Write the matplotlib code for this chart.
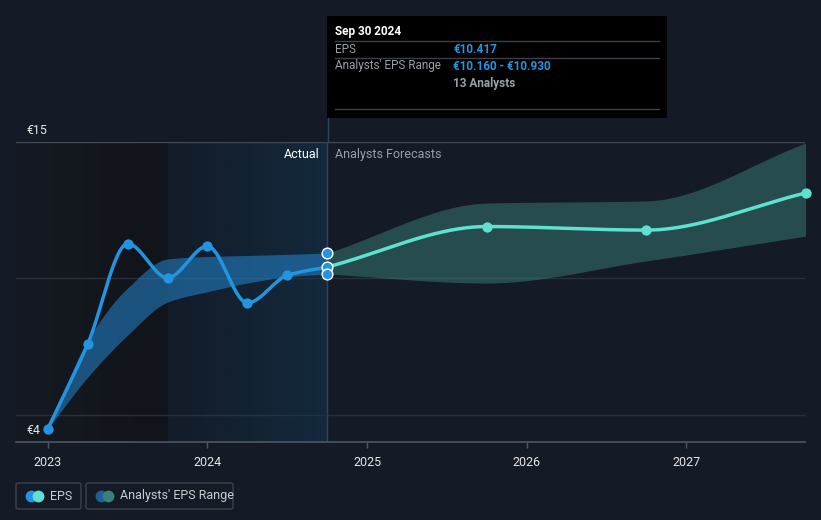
import numpy as np
import matplotlib
matplotlib.use("Agg")
import matplotlib.pyplot as plt
from matplotlib.patches import FancyBboxPatch, Rectangle, Circle

plt.rcParams['font.family'] = ['Roboto', 'DejaVu Sans']

# ---------------- data ----------------
eps_x = [2023.0, 2023.25, 2023.5, 2023.75, 2024.0, 2024.25, 2024.5, 2024.75]
eps_y = [4.49, 7.60, 11.27, 10.02, 11.18, 9.10, 10.11, 10.417]

past_range_hi = [4.49, 7.74, 9.65, 10.71, 10.80, 10.84, 10.88, 10.93]
past_range_lo = [4.49, 6.38, 7.92, 9.13, 9.51, 9.83, 10.06, 10.16]

fc_x = [2024.75, 2025.75, 2026.75, 2027.75]
fc_y = [10.417, 11.90, 11.77, 13.13]
fc_hi = [10.93, 12.76, 12.84, 14.96]
fc_lo = [10.16, 9.83, 10.64, 11.55]

years = [2023, 2024, 2025, 2026, 2027]
year_labels = ['2023', '2024', '2025', '2026', '2027']

tip_date = 'Sep 30 2024'
tip_eps = '€10.417'
tip_range = '€10.160 - €10.930'
tip_analysts = '13 Analysts'

# ---------------- style ----------------
BG = '#151b26'
BLUE = '#2394df'
TEAL = '#5de2cf'
GRID = '#2a303a'
TXT = '#e6e6e6'
GREY = '#9a9ea6'

XMIN, XMAX = 2022.80, 2027.745
YMIN, YMAX = 4.0, 15.0


def monotone(x, y, n=200):
    x = np.asarray(x, float); y = np.asarray(y, float)
    h = np.diff(x); d = np.diff(y) / h
    m = np.zeros_like(y)
    m[0] = d[0]; m[-1] = d[-1]
    for i in range(1, len(y) - 1):
        if d[i - 1] * d[i] <= 0:
            m[i] = 0
        else:
            w1 = 2 * h[i] + h[i - 1]; w2 = h[i] + 2 * h[i - 1]
            m[i] = (w1 + w2) / (w1 / d[i - 1] + w2 / d[i])
    xs, ys = [], []
    for i in range(len(x) - 1):
        t = np.linspace(0, 1, n, endpoint=(i == len(x) - 2))
        h00 = 2 * t**3 - 3 * t**2 + 1; h10 = t**3 - 2 * t**2 + t
        h01 = -2 * t**3 + 3 * t**2; h11 = t**3 - t**2
        xs.append(x[i] + t * h[i])
        ys.append(h00 * y[i] + h10 * h[i] * m[i] + h01 * y[i + 1] + h11 * h[i] * m[i + 1])
    return np.concatenate(xs), np.concatenate(ys)


fig = plt.figure(figsize=(8.21, 5.2), dpi=100, facecolor=BG)
ax = fig.add_axes([16 / 821, (520 - 442) / 520, 789 / 821, 300 / 520])
ax.set_facecolor(BG)
ax.set_xlim(XMIN, XMAX)
ax.set_ylim(YMIN, YMAX)

# background regions (gradients)
g = np.linspace(0, 1, 256).reshape(1, -1)
from matplotlib.colors import LinearSegmentedColormap
cm_dark = LinearSegmentedColormap.from_list('d', ['#151a22', '#111419'])
cm_blue = LinearSegmentedColormap.from_list('b', ['#131c28', '#13293d'])
ax.imshow(g, cmap=cm_dark, aspect='auto', extent=[XMIN, 2023.75, YMIN, YMAX], zorder=0)
ax.imshow(g, cmap=cm_blue, aspect='auto', extent=[2023.75, 2024.75, YMIN, YMAX], zorder=0)
ax.set_xlim(XMIN, XMAX)
ax.set_ylim(YMIN, YMAX)

# grid lines
for v in [5, 10]:
    ax.axhline(v, color=GRID, lw=1, zorder=1)
ax.axhline(15, color='#454b55', lw=1, zorder=1)
ax.axvline(2024.75, color='#2b4560', lw=1, zorder=1)

# past range band
bx, bhi = monotone(eps_x, past_range_hi)
_, blo = monotone(eps_x, past_range_lo)
ax.fill_between(bx, blo, bhi, color='#2386cf', alpha=0.55, lw=0, zorder=2)

# forecast band
fx, fhi = monotone(fc_x, fc_hi)
_, flo = monotone(fc_x, fc_lo)
ax.fill_between(fx, flo, fhi, color='#3f8a84', alpha=0.45, lw=0, zorder=2)

# EPS lines
ex, ey = monotone(eps_x, eps_y)
ax.plot(ex, ey, color=BLUE, lw=2.5, zorder=4, solid_capstyle='round')
ax.scatter(eps_x[:-1], eps_y[:-1], s=55, color=BLUE, zorder=5, lw=0)

fcx, fcy = monotone(fc_x, fc_y)
ax.plot(fcx, fcy, color=TEAL, lw=2.5, zorder=4, solid_capstyle='round')
ax.scatter(fc_x[1:], fc_y[1:], s=55, color=TEAL, zorder=5, lw=0, clip_on=False)

# endpoint markers at current date
ax.scatter([2024.75] * 3, [fc_hi[0], fc_y[0], fc_lo[0]], s=60, color=BLUE,
           edgecolor='white', lw=1.0, zorder=6)

# axes styling
for s in ['top', 'right', 'left']:
    ax.spines[s].set_visible(False)
ax.spines['bottom'].set_color('#50565f')
ax.spines['bottom'].set_linewidth(1.2)
ax.set_yticks([])
ax.set_xticks(years)
ax.set_xticklabels(year_labels, color=TXT, fontsize=9)
ax.tick_params(axis='x', colors='#50565f', length=4, width=1, pad=6, labelcolor=TXT)

# y labels
ax.text(2022.80 + 10 / 159.6, 15.44, '€15', color=TXT, fontsize=9, va='center', ha='left', clip_on=False)
ax.text(2022.80 + 10 / 159.6, 4.44, '€4', color=TXT, fontsize=9, va='center', ha='left', clip_on=False)

# Actual / Forecast labels
ax.text(2024.75 - 8 / 159.6, 14.55, 'Actual', color='white', fontsize=9, ha='right', va='center')
ax.text(2024.75 + 8 / 159.6, 14.55, 'Analysts Forecasts', color=GREY, fontsize=9, ha='left', va='center')

# tooltip (figure pixel coordinates)
def fx_(px):
    return px / 821

def fy_(py):
    return 1 - py / 520

fig.patches.append(Rectangle((fx_(327), fy_(118)), 340 / 821, 102 / 520, transform=fig.transFigure,
                             facecolor='black', edgecolor='none', zorder=10))
# vertical line from tooltip down
fig.add_artist(plt.Line2D([fx_(327.5), fx_(327.5)], [fy_(118), fy_(142)], color='#2b4560', lw=1,
                          transform=fig.transFigure, zorder=9))
for py in [41, 58, 109]:
    fig.add_artist(plt.Line2D([fx_(335), fx_(659)], [fy_(py), fy_(py)], color='#3c3f45', lw=1,
                              transform=fig.transFigure, zorder=11))
fig.text(fx_(335), fy_(31), tip_date, color='white', fontsize=8.5, fontweight='bold', va='center', zorder=12)
fig.text(fx_(335), fy_(49.5), 'EPS', color=GREY, fontsize=8.5, va='center', zorder=12)
fig.text(fx_(453), fy_(49.5), tip_eps, color=BLUE, fontsize=8.5, fontweight='bold', va='center', zorder=12)
fig.text(fx_(335), fy_(66), "Analysts' EPS Range", color=GREY, fontsize=8.5, va='center', zorder=12)
fig.text(fx_(453), fy_(66), tip_range, color=BLUE, fontsize=8.5, fontweight='bold', va='center', zorder=12)
fig.text(fx_(453), fy_(83), tip_analysts, color=GREY, fontsize=8.5, fontweight='bold', va='center', zorder=12)

# legend boxes
def legend_box(x0, x1, label, c1, c2):
    fig.patches.append(FancyBboxPatch((fx_(x0), fy_(509)), (x1 - x0) / 821, 26 / 520,
                                      boxstyle='round,pad=0,rounding_size=0.003', transform=fig.transFigure,
                                      facecolor='none', edgecolor='#3d424b', lw=1))
    fig.add_artist(plt.Line2D([fx_(x0 + 15)], [fy_(496)], marker='o', ms=8.5, color=c1, lw=0,
                              markeredgewidth=0, transform=fig.transFigure))
    fig.add_artist(plt.Line2D([fx_(x0 + 22)], [fy_(496)], marker='o', ms=8.5, color=c2, lw=0,
                              markeredgewidth=0, transform=fig.transFigure))
    fig.text(fx_(x0 + 34), fy_(496), label, color='#c9ccd1', fontsize=9, va='center')

legend_box(16, 81, 'EPS', BLUE, TEAL)
legend_box(86, 233, "Analysts' EPS Range", '#1f5f93', '#3a807a')

fig.savefig('out.png', dpi=100, facecolor=BG)
